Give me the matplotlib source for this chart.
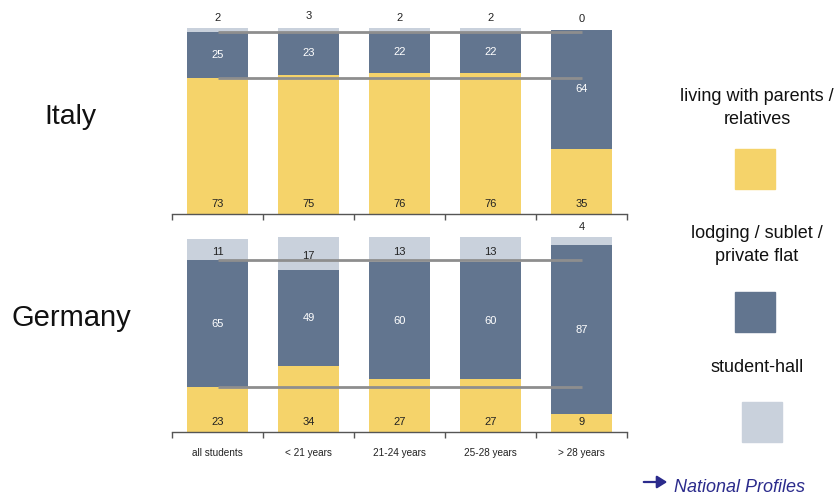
import matplotlib
matplotlib.use("Agg")
import matplotlib.pyplot as plt
from matplotlib.patches import Rectangle, FancyArrowPatch

plt.rcParams['font.family'] = ['Liberation Sans', 'DejaVu Sans']

categories = ["all students", "< 21 years", "21-24 years", "25-28 years", "> 28 years"]
series_names = ["living with parents /\nrelatives", "lodging / sublet /\nprivate flat", "student-hall"]
italy_parents = [73, 75, 76, 76, 35]
italy_lodging = [25, 23, 22, 22, 64]
italy_hall = [2, 3, 2, 2, 0]
germany_parents = [23, 34, 27, 27, 9]
germany_lodging = [65, 49, 60, 60, 87]
germany_hall = [11, 17, 13, 13, 4]
countries = ["Italy", "Germany"]

C_YEL = "#F5D36A"
C_BLUE = "#62758F"
C_GRAY = "#C9D1DC"
C_REF = "#8E8E8E"

W, H = 836, 498
fig = plt.figure(figsize=(W / 100, H / 100), dpi=100)

def fx(px):
    return px / W

def fy(py):
    return 1 - py / H

ax_it = fig.add_axes([fx(172), fy(214), fx(627) - fx(172), fy(28) - fy(214)])
ax_de = fig.add_axes([fx(172), fy(432), fx(627) - fx(172), fy(237) - fy(432)])

def draw(ax, parents, lodging, hall, show_labels):
    x = list(range(len(categories)))
    bw = 0.66
    ax.bar(x, parents, width=bw, color=C_YEL, zorder=2)
    ax.bar(x, lodging, width=bw, bottom=parents, color=C_BLUE, zorder=2)
    b2 = [p + l for p, l in zip(parents, lodging)]
    ax.bar(x, hall, width=bw, bottom=b2, color=C_GRAY, zorder=2)
    # reference lines at "all students" levels
    for lvl in (parents[0], parents[0] + lodging[0]):
        ax.plot([0, len(categories) - 1], [lvl, lvl], color=C_REF, lw=2.0,
                zorder=4, solid_capstyle='butt')
    fs = 8
    for i in x:
        ax.annotate(str(parents[i]), (i, 0), xytext=(0, 7.5), textcoords='offset points',
                    ha='center', va='center', fontsize=fs, color='#222222', zorder=5)
        ax.text(i, parents[i] + lodging[i] / 2, str(lodging[i]), ha='center', va='center',
                fontsize=fs, color='white', zorder=5)
        top = b2[i] + hall[i]
        if hall[i] >= 8:
            ax.annotate(str(hall[i]), (i, b2[i] + hall[i] / 2), xytext=(0, -1.5),
                        textcoords='offset points', ha='center', va='center',
                        fontsize=fs, color='#222222', zorder=5)
        else:
            ax.annotate(str(hall[i]), (i, top), xytext=(0, 7.5), textcoords='offset points',
                        ha='center', va='center', fontsize=fs, color='#222222', zorder=5,
                        annotation_clip=False,
                        bbox=dict(boxstyle='square,pad=0.15', fc='white', ec='none'))
    ax.set_xlim(-0.5, len(categories) - 0.5)
    ax.set_ylim(0, 100)
    for s in ('top', 'right', 'left'):
        ax.spines[s].set_visible(False)
    ax.spines['bottom'].set_color('#555555')
    ax.spines['bottom'].set_linewidth(1.0)
    ax.set_yticks([])
    ax.set_xticks([i - 0.5 for i in range(len(categories) + 1)])
    ax.set_xticklabels([])
    ax.tick_params(axis='x', length=4, width=1.0, color='#555555', direction='out')
    if show_labels:
        for i, c in enumerate(categories):
            ax.annotate(c, (i, 0), xytext=(0, -15), textcoords='offset points',
                        ha='center', va='center', fontsize=7.2, color='#222222',
                        annotation_clip=False)

draw(ax_it, italy_parents, italy_lodging, italy_hall, False)
draw(ax_de, germany_parents, germany_lodging, germany_hall, True)

fig.text(fx(70), fy(117), countries[0], ha='center', va='center', fontsize=20.5, color='#111111')
fig.text(fx(71), fy(318), countries[1], ha='center', va='center', fontsize=21, color='#111111')

# legend
leg = [(series_names[0], 108, C_YEL, 755, 169),
       (series_names[1], 245, C_BLUE, 755, 312),
       (series_names[2], 368, C_GRAY, 762, 422)]
for txt, ty, col, sx, sy in leg:
    fig.text(fx(757), fy(ty), txt, ha='center', va='center', fontsize=13,
             color='#111111', linespacing=1.5)
    fig.add_artist(Rectangle((fx(sx - 20), fy(sy + 20)), fx(40), fy(0) - fy(40),
                             transform=fig.transFigure, color=col))

fig.add_artist(FancyArrowPatch((fx(641), fy(482)), (fx(670), fy(482)),
                               transform=fig.transFigure, arrowstyle='-|>,head_length=4,head_width=2.5',
                               color='#2B2B8C', lw=1.6, mutation_scale=1.5))
fig.text(fx(674), fy(487), "National Profiles", ha='left', va='center', fontsize=13,
         style='italic', color='#2B2B8C')

fig.savefig("out.png", dpi=100)
